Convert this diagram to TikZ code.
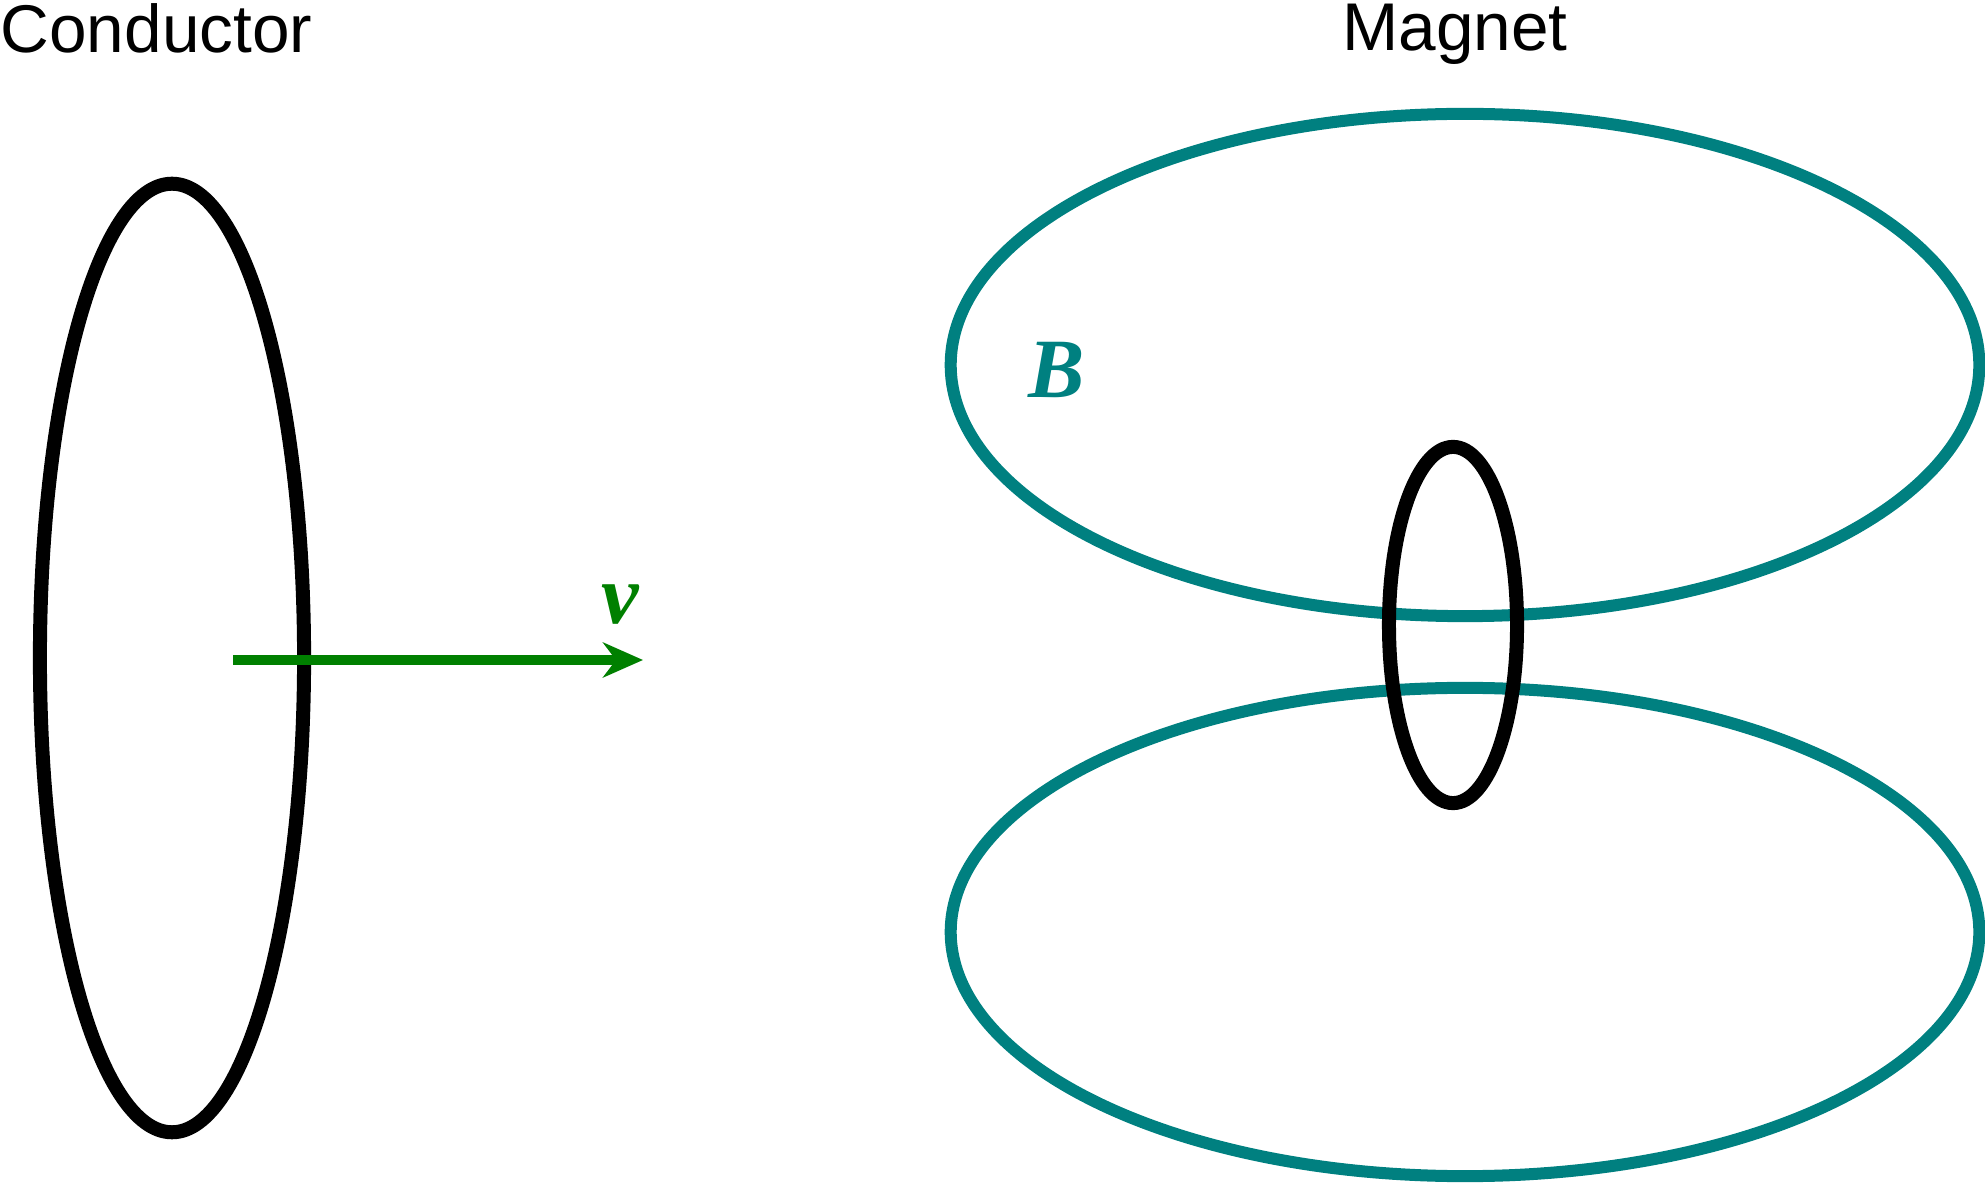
\documentclass[tikz,border=0pt]{standalone}
\usepackage{fontspec}
\setmainfont{Liberation Sans}
\newfontfamily\symfont{Liberation Serif}
\usetikzlibrary{arrows.meta}
\definecolor{fieldteal}{RGB}{0,128,128}
\definecolor{velgreen}{RGB}{0,128,0}
\tikzset{
  label/.style={font=\fontsize{19.2}{22}\selectfont, inner sep=0pt},
  symbol/.style={font=\fontsize{24}{26}\symfont\bfseries\itshape, inner sep=0pt},
  loop/.style={line width=0.14cm, draw=black},
  fieldline/.style={line width=0.12cm, draw=fieldteal},
  arrow/.style={line width=0.1cm, draw=velgreen, -{Stealth[length=0.4cm, width=0.35cm, fill=velgreen]}}
}
\begin{document}
\begin{tikzpicture}[x=0.01cm,y=-0.01cm]
\useasboundingbox (0,0) rectangle (1985,1189);

\node(tc)[label, anchor=north west] at (0,3) {Conductor};
\node(tm)[label, anchor=north] at (1455,3) {Magnet};

% conductor loop
\coordinate(cc) at (172,658);
\draw[loop] (cc) ellipse [x radius=1.32cm, y radius=4.74cm];

% field lines
\coordinate(f1) at (1465,365);
\coordinate(f2) at (1465,932);
\draw[fieldline] (f1) ellipse [x radius=5.14cm, y radius=2.51cm];
\draw[fieldline] (f2) ellipse [x radius=5.14cm, y radius=2.44cm];
\node(lb)[symbol, text=fieldteal] at (1057,370) {B};

% magnet loop
\coordinate(mc) at (1453,625);
\draw[loop] (mc) ellipse [x radius=0.64cm, y radius=1.78cm];

% velocity
\coordinate(va) at (233,660);
\coordinate(vb) at (643,660);
\draw[arrow] (va) -- (vb);
\node(lv)[symbol, text=velgreen] at (620,605) {v};

\end{tikzpicture}
\end{document}
